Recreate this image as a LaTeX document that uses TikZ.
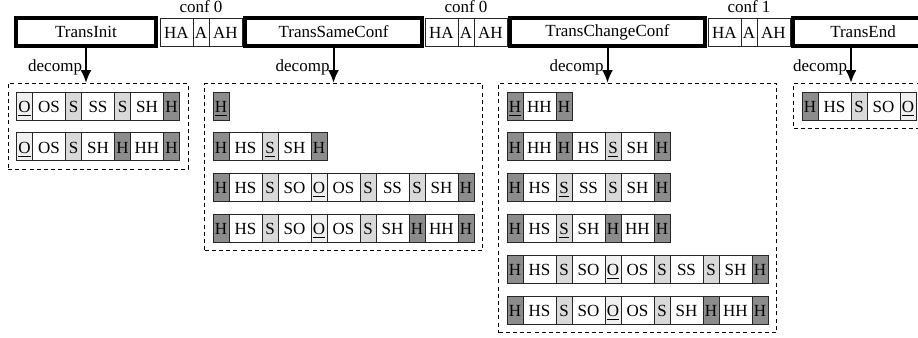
\documentclass[tikz,border=0pt]{standalone}
\usepackage{fontspec}
\setmainfont{Liberation Serif}
\usetikzlibrary{arrows.meta,positioning,fit}
\tikzset{
trbox/.style={rectangle,draw,line width=2.2pt,fill=white,inner sep=0pt,outer sep=0pt,minimum height=14pt},
cellbase/.style={rectangle,draw=black!85,line width=0.5pt,inner sep=0pt,outer sep=0pt,minimum height=14pt,text height=0.68em,text depth=0pt},
hcell/.style={cellbase,fill=black!45,minimum width=8pt},
scell/.style={cellbase,fill=black!15,minimum width=8pt},
ocell/.style={cellbase,fill=black!6,minimum width=8pt},
acell/.style={cellbase,fill=white,minimum width=8pt},
wcell/.style={cellbase,fill=white,minimum width=16.5pt},
decompbox/.style={rectangle,draw,dash pattern=on 2pt off 1.6pt,line width=0.5pt,inner sep=4.25pt},
decomparr/.style={-{Latex[length=6.5pt,width=5.5pt]},line width=1pt},
decomplabel/.style={inner sep=1.5pt},
conflabel/.style={inner sep=2pt,outer sep=0pt}
}
% one row of cells, placed side by side from a start point
\newcommand{\cellrow}[3]{%
  \node[inner sep=0pt,outer sep=0pt,minimum size=0pt] (#1-0) at (#2) {};
  \foreach \sty/\txt [count=\i, remember=\i as \j (initially 0)] in {#3}
    \node[\sty,anchor=west] (#1-\i) at (#1-\j.east) {\txt};
}
\begin{document}
\begin{tikzpicture}[
x=0.5pt,
y=-0.5pt,
every node/.style={font=\fontsize{8.5}{10}\selectfont}
]
\useasboundingbox (0,0) rectangle (918,338);
% transitions
\node[trbox,minimum width=69.8pt] (ti) at (86,32) {TransInit};
\node[trbox,minimum width=88.3pt] (ts) at (333.5,32) {TransSameConf};
\node[trbox,minimum width=97.3pt] (tc) at (607.5,32) {TransChangeConf};
\node[trbox,minimum width=70pt] (te) at (863,32) {TransEnd};
% configurations
\cellrow{ca}{160,32}{wcell/HA,acell/A,wcell/AH}
\cellrow{cb}{425,32}{wcell/HA,acell/A,wcell/AH}
\cellrow{cc}{708,32}{wcell/HA,acell/A,wcell/AH}
\node[conflabel,above=0.6pt of ca-2] (confa) {conf 0};
\node[conflabel,above=0.6pt of cb-2] (confb) {conf 0};
\node[conflabel,above=0.6pt of cc-2] (confc) {conf 1};
% TransInit
\cellrow{init1}{16.5,106}{ocell/\underline{O},wcell/OS,scell/S,wcell/SS,scell/S,wcell/SH,hcell/H}
\cellrow{init2}{16.5,146.5}{ocell/\underline{O},wcell/OS,scell/S,wcell/SH,hcell/H,wcell/HH,hcell/H}
% TransSameConf
\cellrow{same1}{213,106}{hcell/\underline{H}}
\cellrow{same2}{213,146.5}{hcell/H,wcell/HS,scell/\underline{S},wcell/SH,hcell/H}
\cellrow{same3}{213,187}{hcell/H,wcell/HS,scell/S,wcell/SO,ocell/\underline{O},wcell/OS,scell/S,wcell/SS,scell/S,wcell/SH,hcell/H}
\cellrow{same4}{213,228}{hcell/H,wcell/HS,scell/S,wcell/SO,ocell/\underline{O},wcell/OS,scell/S,wcell/SH,hcell/H,wcell/HH,hcell/H}
% TransChangeConf
\cellrow{chg1}{507,106}{hcell/\underline{H},wcell/HH,hcell/H}
\cellrow{chg2}{507,146.5}{hcell/H,wcell/HH,hcell/H,wcell/HS,scell/\underline{S},wcell/SH,hcell/H}
\cellrow{chg3}{507,187}{hcell/H,wcell/HS,scell/\underline{S},wcell/SS,scell/S,wcell/SH,hcell/H}
\cellrow{chg4}{507,228}{hcell/H,wcell/HS,scell/\underline{S},wcell/SH,hcell/H,wcell/HH,hcell/H}
\cellrow{chg5}{507,269}{hcell/H,wcell/HS,scell/S,wcell/SO,ocell/\underline{O},wcell/OS,scell/S,wcell/SS,scell/S,wcell/SH,hcell/H}
\cellrow{chg6}{507,310}{hcell/H,wcell/HS,scell/S,wcell/SO,ocell/\underline{O},wcell/OS,scell/S,wcell/SH,hcell/H,wcell/HH,hcell/H}
% TransEnd
\cellrow{end1}{802,106}{hcell/H,wcell/HS,scell/S,wcell/SO,ocell/\underline{O}}
% decompositions
\node[decompbox,fit=(init1-1)(init2-7)] (dinit) {};
\node[decompbox,fit=(same1-1)(same3-11)(same4-11)] (dsame) {};
\node[decompbox,fit=(chg1-1)(chg5-11)(chg6-11)] (dchg) {};
\node[decompbox,fit=(end1-1)(end1-5)] (dend) {};
\coordinate (tefoot) at ([xshift=-6pt]te.south);
\draw[decomparr] (ti.south) -- node[decomplabel,left,pos=0.57] (la) {decomp} (ti.south |- dinit.north);
\draw[decomparr] (ts.south) -- node[decomplabel,left,pos=0.57] (lb) {decomp} (ts.south |- dsame.north);
\draw[decomparr] (tc.south) -- node[decomplabel,left,pos=0.57] (lc) {decomp} (tc.south |- dchg.north);
\draw[decomparr] (tefoot) -- node[decomplabel,left,pos=0.57] (ld) {decomp} (tefoot |- dend.north);
\end{tikzpicture}
\end{document}
